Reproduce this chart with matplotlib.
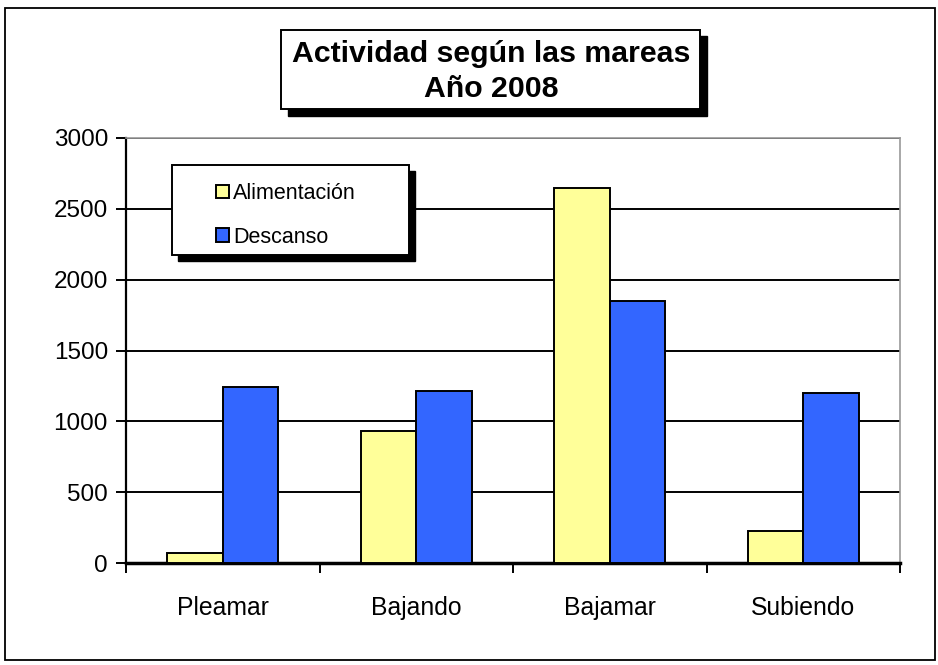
import matplotlib
matplotlib.use("Agg")
import matplotlib.pyplot as plt
from matplotlib.patches import Rectangle
import numpy as np

plt.rcParams['font.family'] = ['Liberation Sans', 'DejaVu Sans']

categories = ["Pleamar", "Bajando", "Bajamar", "Subiendo"]
alimentacion = [72, 932, 2645, 226]
descanso = [1245, 1214, 1849, 1200]
series_names = ["Alimentación", "Descanso"]
title_lines = ["Actividad según las mareas", "Año 2008"]
yticks = [0, 500, 1000, 1500, 2000, 2500, 3000]

W, H = 938, 665
DPI = 100
fig = plt.figure(figsize=(W / DPI, H / DPI), dpi=DPI)

def px_rect(x0, y0, x1, y1, **kw):
    # pixel coords with y measured from top
    r = Rectangle((x0 / W, 1 - y1 / H), (x1 - x0) / W, (y1 - y0) / H,
                  transform=fig.transFigure, **kw)
    fig.add_artist(r)
    return r

# outer border
px_rect(5, 8, 935, 660, facecolor='white', edgecolor='black', linewidth=1.3, zorder=0)

ax = fig.add_axes([126 / W, 1 - 563 / H, 774 / W, 425 / H])
ax.set_zorder(1)
ax.patch.set_alpha(0)

x = np.arange(len(categories))
bw = 1 / 3.5
b1 = ax.bar(x - bw / 2, alimentacion, bw, color='#FFFF99', edgecolor='black',
            linewidth=1.4, zorder=3, label=series_names[0])
b2 = ax.bar(x + bw / 2, descanso, bw, color='#3366FF', edgecolor='black',
            linewidth=1.4, zorder=3, label=series_names[1])

ax.set_xlim(-0.5, len(categories) - 0.5)
ax.set_ylim(0, 3000)
ax.set_yticks(yticks)
ax.set_yticklabels([str(v) for v in yticks], fontsize=17.5)
ax.yaxis.grid(True, color='black', linewidth=1.4, zorder=0)
ax.set_axisbelow(True)

ax.set_xticks(x)
ax.set_xticklabels(categories, fontsize=17.8)
ax.tick_params(axis='x', length=0, pad=24)
ax.set_xticks(np.arange(-0.5, len(categories) + 0.5, 1), minor=True)
ax.tick_params(axis='x', which='minor', length=7, width=1.4, direction='out')
ax.tick_params(axis='y', length=7, width=1.4, direction='out', pad=6)

for s in ['top', 'right']:
    ax.spines[s].set_color('#999999')
    ax.spines[s].set_linewidth(1.2)
ax.spines['left'].set_linewidth(1.6)
ax.spines['bottom'].set_linewidth(2.5)

# title box with shadow
px_rect(288, 36, 707, 116, facecolor='black', edgecolor='black', zorder=5)
px_rect(281, 30, 700, 109, facecolor='white', edgecolor='black', linewidth=1.4, zorder=6)
fig.text(491 / W, 1 - 54 / H, title_lines[0], ha='center', va='center',
         fontsize=21.8, fontweight='bold', zorder=7)
fig.text(491 / W, 1 - 89 / H, title_lines[1], ha='center', va='center',
         fontsize=21.8, fontweight='bold', zorder=7)

# legend box with shadow
px_rect(178, 171, 415, 261, facecolor='black', edgecolor='black', zorder=5)
px_rect(172, 165, 409, 255, facecolor='white', edgecolor='black', linewidth=1.4, zorder=6)
leg = fig.legend(handles=[b1, b2], labels=series_names, loc='upper left',
                 bbox_to_anchor=(216 / W, 1 - 183 / H), frameon=False,
                 fontsize=15.5, handlelength=0.6, handleheight=0.6,
                 handletextpad=0.2, labelspacing=1.05, borderpad=0, borderaxespad=0)
leg.set_zorder(8)

fig.savefig("out.png", dpi=DPI)
